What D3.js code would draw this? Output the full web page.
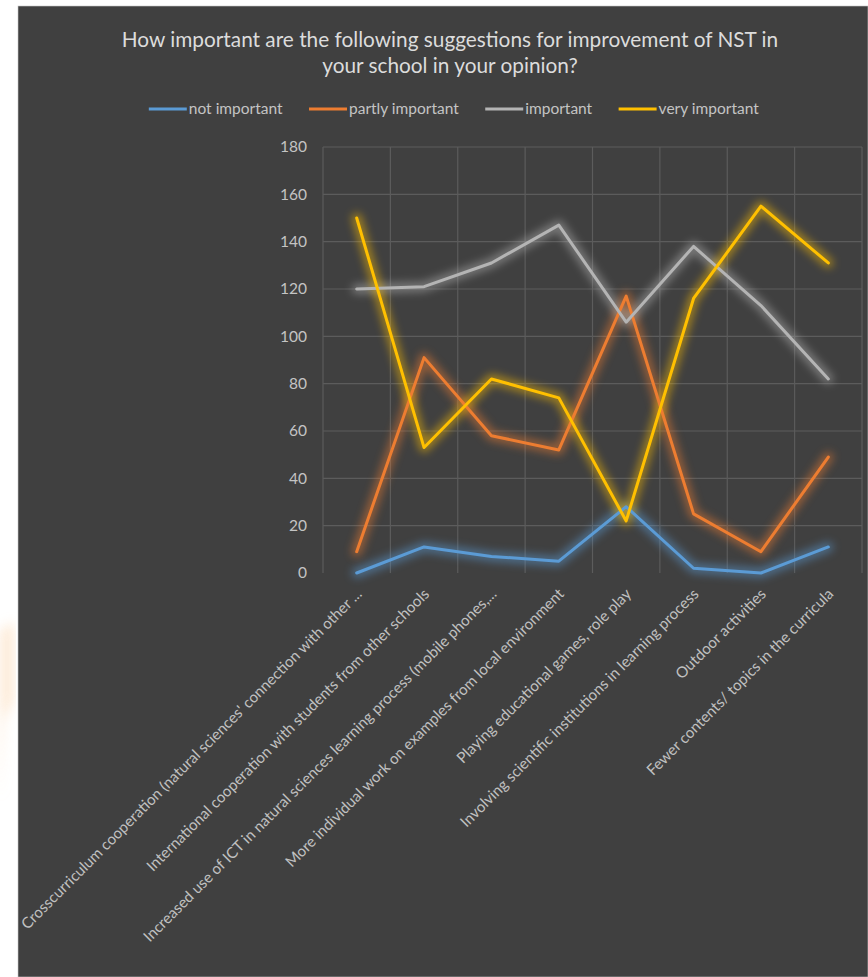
<!DOCTYPE html>
<html>
<head>
<meta charset="utf-8">
<script src="https://cdn.jsdelivr.net/npm/d3@7"></script>
<style>
  html, body { margin: 0; padding: 0; background: #ffffff; }
  svg { display: block; }
</style>
</head>
<body>
<svg id="chart" width="868" height="977"></svg>
<script>
// Survey answers per suggestion
const categories = [
  "Crosscurriculum cooperation (natural sciences' connection with other ...",
  "International cooperation with students from other schools",
  "Increased use of ICT in natural sciences learning process (mobile phones,...",
  "More individual work on examples from local environment",
  "Playing educational games, role play",
  "Involving scientific institutions  in learning process",
  "Outdoor activities",
  "Fewer contents/ topics in the curricula"
];
const seriesNames = ["not important", "partly important", "important", "very important"];
const notImportant    = [0, 11, 7, 5, 28, 2, 0, 11];
const partlyImportant = [9, 91, 58, 52, 117, 25, 9, 49];
const important       = [120, 121, 131, 147, 106, 138, 113, 82];
const veryImportant   = [150, 53, 82, 74, 22, 116, 155, 131];
const yTicks = [0, 20, 40, 60, 80, 100, 120, 140, 160, 180];
const title = ["How important are the following suggestions for improvement of NST in",
               "your school in your opinion?"];

const series = [
  { name: seriesNames[0], values: notImportant,    color: "#5b9bd5" },
  { name: seriesNames[1], values: partlyImportant, color: "#ed7d31" },
  { name: seriesNames[2], values: important,       color: "#b4b4b4" },
  { name: seriesNames[3], values: veryImportant,   color: "#ffc000" }
];

const svg = d3.select("#chart");
const font = "Lato, 'Open Sans', sans-serif";

// page edge and chart background
const defs = svg.append("defs");
const glow = defs.append("filter").attr("id", "glow")
  .attr("x", "-20%").attr("y", "-20%").attr("width", "140%").attr("height", "140%");
glow.append("feGaussianBlur").attr("stdDeviation", 4.5);
const soft = defs.append("filter").attr("id", "soft");
soft.append("feGaussianBlur").attr("stdDeviation", 6);

svg.append("path")
  .attr("d", "M0,630 L14,622 L14,700 L4,720 L0,800 Z")
  .attr("fill", "#fde3c8").attr("opacity", 0.7).attr("filter", "url(#soft)");

svg.append("rect")
  .attr("x", 18).attr("y", 6).attr("width", 850).attr("height", 971)
  .attr("fill", "#404040").attr("stroke", "#c8c8c8").attr("stroke-width", 0.6);

// scales
const plot = { left: 323, right: 862, top: 147, bottom: 573 };
const x = d3.scaleBand().domain(d3.range(categories.length))
  .range([plot.left, plot.right]).paddingInner(0).paddingOuter(0);
const y = d3.scaleLinear().domain([0, 180]).range([plot.bottom, plot.top]);
const cx = i => x(i) + x.bandwidth() / 2;

// gridlines
const grid = svg.append("g").attr("stroke", "#5c5c5c").attr("stroke-width", 1.2);
grid.selectAll("line.h").data(yTicks.filter(d => d > 0)).join("line")
  .attr("x1", plot.left).attr("x2", plot.right)
  .attr("y1", d => y(d)).attr("y2", d => y(d));
grid.selectAll("line.v").data(d3.range(categories.length + 1)).join("line")
  .attr("x1", i => plot.left + i * x.step()).attr("x2", i => plot.left + i * x.step())
  .attr("y1", plot.top).attr("y2", plot.bottom);

// y axis
const yAxis = svg.append("g")
  .attr("transform", `translate(${plot.left - 16},0)`)
  .call(d3.axisLeft(y).tickValues(yTicks).tickSize(0).tickPadding(0));
yAxis.select(".domain").remove();
yAxis.selectAll("text")
  .attr("fill", "#c4c4c4").attr("font-family", font).attr("font-size", 15.5);

// x axis labels
const xAxis = svg.append("g").attr("transform", `translate(0,${plot.bottom})`)
  .call(d3.axisBottom(x).tickSize(0).tickFormat(i => categories[i]));
xAxis.select(".domain").remove();
xAxis.selectAll("text")
  .attr("fill", "#c0c0c0").attr("font-family", font).attr("font-size", 15.2)
  .attr("text-anchor", "end").attr("dy", 0).attr("y", 0)
  .attr("transform", "translate(6,22) rotate(-45)");

// lines
const line = d3.line().x((d, i) => cx(i)).y(d => y(d));
const lines = svg.append("g").attr("fill", "none")
  .attr("stroke-linejoin", "round").attr("stroke-linecap", "round");
series.forEach(s => {
  lines.append("path").attr("d", line(s.values))
    .attr("stroke", s.color).attr("stroke-width", 10).attr("opacity", 0.5)
    .attr("filter", "url(#glow)");
});
series.forEach(s => {
  lines.append("path").attr("d", line(s.values))
    .attr("stroke", s.color).attr("stroke-width", 3);
});

// title
svg.append("g").selectAll("text").data(title).join("text")
  .attr("x", 450).attr("y", (d, i) => 47 + i * 26)
  .attr("text-anchor", "middle").attr("fill", "#dcdcdc")
  .attr("font-family", font).attr("font-size", 20.8)
  .text(d => d);

// legend
const legend = svg.append("g");
const items = legend.selectAll("g").data(series).join("g");
items.append("line").attr("x1", 0).attr("x2", 38).attr("y1", 0).attr("y2", 0)
  .attr("stroke", d => d.color).attr("stroke-width", 3);
items.append("text").attr("x", 40).attr("y", 5)
  .attr("fill", "#c4c4c4").attr("font-family", font).attr("font-size", 15.5)
  .text(d => d.name);
const widths = [];
items.each(function () { widths.push(this.getBBox().width); });
const gap = 26;
const total = d3.sum(widths) + gap * (widths.length - 1);
const offset = 454 - total / 2;
items.attr("transform", (d, i) => {
  const tx = offset + d3.sum(widths.slice(0, i)) + gap * i;
  return `translate(${tx},109)`;
});
</script>
</body>
</html>
